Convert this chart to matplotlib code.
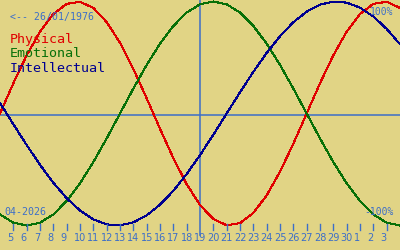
import matplotlib
matplotlib.use("Agg")
import matplotlib.pyplot as plt
import matplotlib.transforms as mtransforms

# days shown (april 4 .. may 4, as day-of-april numbers)
days = list(range(4, 35))

physical = [0.0, 0.2698, 0.5196, 0.7308, 0.8879, 0.9791, 0.9977, 0.9423, 0.8170, 0.6311,
            0.3984, 0.1362, -0.1362, -0.3984, -0.6311, -0.8170, -0.9423, -0.9977, -0.9791,
            -0.8879, -0.7308, -0.5196, -0.2698, 0.0, 0.2698, 0.5196, 0.7308, 0.8879, 0.9791,
            0.9977, 0.9423]
emotional = [-0.9010, -0.9749, -1.0, -0.9749, -0.9010, -0.7818, -0.6235, -0.4339, -0.2225,
             0.0, 0.2225, 0.4339, 0.6235, 0.7818, 0.9010, 0.9749, 1.0, 0.9749, 0.9010,
             0.7818, 0.6235, 0.4339, 0.2225, 0.0, -0.2225, -0.4339, -0.6235, -0.7818,
             -0.9010, -0.9749, -1.0]
intellectual = [0.0951, -0.0951, -0.2817, -0.4582, -0.6182, -0.7557, -0.8660, -0.9450,
                -0.9898, -0.9989, -0.9718, -0.9096, -0.8146, -0.6901, -0.5406, -0.3717,
                -0.1893, 0.0, 0.1893, 0.3717, 0.5406, 0.6901, 0.8146, 0.9096, 0.9718,
                0.9989, 0.9898, 0.9450, 0.8660, 0.7557, 0.6182]

tick_days = list(range(5, 34))
tick_labels = [str(d) for d in range(5, 31)] + ["1", "2", "3"]
today = 19
birth_text = "<-- 26/01/1976"
month_text = "04-2026"
series_names = ["Physical", "Emotional", "Intellectual"]

bg = "#E1D485"
axis_blue = "#3C6EC8"
colors = ["#E00000", "#087008", "#000090"]

fig = plt.figure(figsize=(4, 2.5), dpi=100, facecolor=bg)
ax = fig.add_axes([0, 0, 1, 1])
ax.set_facecolor(bg)
ax.set_xlim(4, 34)
ax.set_ylim(-1.21875, 1.01339)
ax.axis("off")

# center line and today marker
ax.plot([0, 1], [0.54, 0.54], transform=ax.transAxes, color=axis_blue, lw=1.1)
ax.axvline(today, ymin=0.06, ymax=1, color=axis_blue, lw=1.1)

for vals, c in zip([physical, emotional, intellectual], colors):
    ax.plot(days, vals, color=c, lw=0.75, antialiased=False)

# day ticks along the bottom
tr = mtransforms.blended_transform_factory(ax.transData, ax.transAxes)
for d, lab in zip(tick_days, tick_labels):
    if d != today:
        ax.plot([d, d], [0.08, 0.104], transform=tr, color=axis_blue, lw=1.0)
    ax.text(d - 0.45, 0.048, lab, transform=tr, ha="left", va="center",
            fontsize=7, color=axis_blue, family="DejaVu Sans")

ax.text(0.025, 0.932, birth_text, transform=ax.transAxes, ha="left", va="center",
        fontsize=7.1, color=axis_blue, family="DejaVu Sans Mono")
for name, c, yb in zip(series_names, colors, [0.828, 0.772, 0.712]):
    ax.text(0.025, yb, name, transform=ax.transAxes, ha="left", va="baseline",
            fontsize=9.6, color=c, family="DejaVu Sans Mono")

ax.text(0.9825, 0.952, "100%", transform=ax.transAxes, ha="right", va="center",
        fontsize=7, color=axis_blue, family="DejaVu Sans Mono")
ax.text(0.985, 0.152, "-100%", transform=ax.transAxes, ha="right", va="center",
        fontsize=7, color=axis_blue, family="DejaVu Sans Mono")
ax.text(0.01, 0.152, month_text, transform=ax.transAxes, ha="left", va="center",
        fontsize=7.2, color=axis_blue, family="DejaVu Sans Mono")

fig.savefig("out.png", dpi=100, facecolor=bg)
